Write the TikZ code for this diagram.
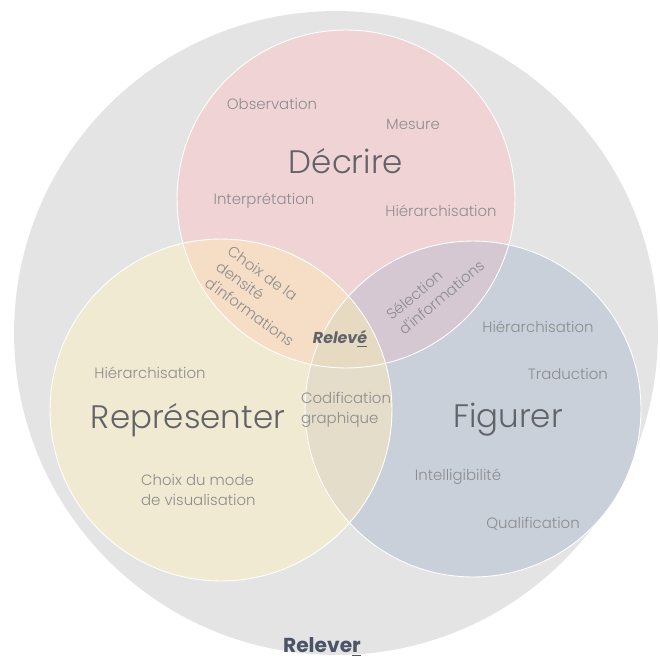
\documentclass[tikz,border=0pt]{standalone}
\usepackage{fontspec}
\setmainfont{Poppins}
\IfFontExistsTF{Poppins Light}{\newfontfamily\thinfont{Poppins Light}}{\newfontfamily\thinfont{Poppins}}
\usetikzlibrary{positioning}
\definecolor{ringgray}{HTML}{E4E4E4}
\definecolor{decpink}{HTML}{F0D4D5}
\definecolor{repyellow}{HTML}{F0EAD3}
\definecolor{figblue}{HTML}{C9D0DA}
\definecolor{peach}{HTML}{F6DEC6}
\definecolor{mauve}{HTML}{D5C8D2}
\definecolor{sand}{HTML}{E3DDC9}
\definecolor{core}{HTML}{E6DAC3}
\definecolor{itemgray}{HTML}{8C8C8E}
\definecolor{wordgray}{HTML}{626369}
\definecolor{slate}{HTML}{4A5466}
\tikzset{%
	item/.style     = {text=itemgray, font=\thinfont\fontsize{8.5}{11}\selectfont, inner sep=1pt}, % small labels
	bigword/.style  = {text=wordgray, font=\thinfont\fontsize{18.5}{20}\selectfont, inner sep=1pt}, % verbs
	skill/.style    = {draw=white, line width=0.5pt},
}
\begin{document}
\begin{tikzpicture}[x=0.02cm,y=-0.02cm]
	\useasboundingbox (0,0) rectangle (659,662);
	\coordinate (O) at (336,333);
	\coordinate (D) at (346,199);
	\coordinate (R) at (221,410);
	\coordinate (F) at (473,409);
	\fill[ringgray] (O) circle (6.44cm);
	% the three circles
	\fill[decpink] (D) circle (3.38cm);
	\fill[repyellow] (R) circle (3.42cm);
	\fill[figblue] (F) circle (3.36cm);
	% overlaps
	\begin{scope}
		\clip (D) circle (3.38cm);
		\fill[peach] (R) circle (3.42cm);
		\fill[mauve] (F) circle (3.36cm);
	\end{scope}
	\begin{scope}
		\clip (R) circle (3.42cm);
		\fill[sand] (F) circle (3.36cm);
		\clip (F) circle (3.36cm);
		\fill[core] (D) circle (3.38cm);
	\end{scope}
	\draw[skill] (D) circle (3.38cm);
	\draw[skill] (R) circle (3.42cm);
	\draw[skill] (F) circle (3.36cm);

	% Decrire
	\node[bigword] (dec) at (346,161) {Décrire};
	\node[item] (obs) at (272,104) {Observation};
	\node[item] (mes) at (413,124) {Mesure};
	\node[item] (int) at (264,201) {Interprétation};
	\node[item] (hid) at (441,211) {Hiérarchisation};

	% Representer
	\node[bigword] (rep) at (188,420) {Représenter};
	\node[item] (hir) at (150,373) {Hiérarchisation};
	\node[item, align=left, anchor=west] (mod) at (139,490) {Choix du mode\\de visualisation};

	% Figurer
	\node[bigword] (fig) at (508,420) {Figurer};
	\node[item] (hif) at (538,327) {Hiérarchisation};
	\node[item] (tra) at (568,374) {Traduction};
	\node[item] (itl) at (458,477) {Intelligibilité};
	\node[item] (qua) at (533,524) {Qualification};

	% intersections
	\node[item, align=left, rotate=-36] (den) at (261,296) {Choix de la\\densité\\d'informations};
	\node[item, align=left, rotate=40] (sel) at (435,290) {Sélection\\d'informations};
	\node[item, align=left, anchor=west] (cod) at (299,410) {Codification\\graphique};
	\node[text=wordgray, font=\fontsize{9}{10}\selectfont\bfseries\itshape] (rel) at (340,339) {Relev\underline{é}};

	\node[text=slate, font=\fontsize{11.5}{13}\selectfont\bfseries] (relever) at (322,647) {Releve\underline{r}};
\end{tikzpicture}
\end{document}
